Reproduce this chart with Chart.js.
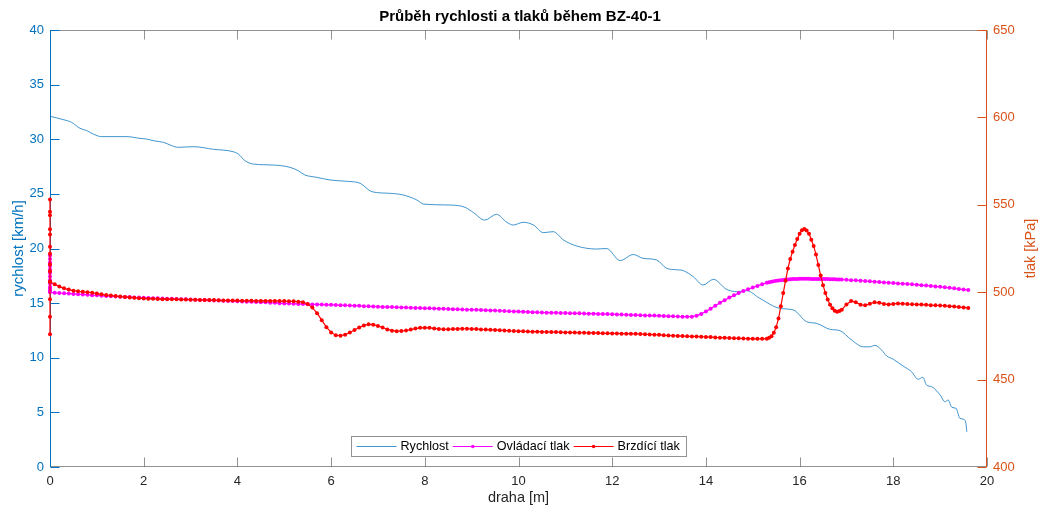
<!DOCTYPE html>
<html>
<head>
<meta charset="utf-8">
<title>Průběh rychlosti a tlaků během BZ-40-1</title>
<script src="https://cdn.jsdelivr.net/npm/chart.js@4/dist/chart.umd.min.js"></script>
<style>
  html, body { margin: 0; padding: 0; background: #fff; }
  #wrap { width: 1040px; height: 509px; }
</style>
</head>
<body>
<div id="wrap"><canvas id="chart" width="1040" height="509"></canvas></div>
<script>
const chartTitle = 'Průběh rychlosti a tlaků během BZ-40-1';
const seriesNames = ['Rychlost', 'Ovládací tlak', 'Brzdící tlak'];
const axisTitles = ['draha [m]', 'rychlost [km/h]', 'tlak [kPa]'];
const speedTicks = [0, 5, 10, 15, 20, 25, 30, 35, 40];
const pressTicks = [400, 450, 500, 550, 600, 650];
const distTicks = [0, 2, 4, 6, 8, 10, 12, 14, 16, 18, 20];

// rychlost [km/h] vs draha [m]
const speedDist = [
  0, 0.28, 0.46, 0.64, 0.78, 0.92, 1.1, 1.64, 1.92, 2.06, 2.24, 2.42, 2.6, 2.74, 3.06, 3.49, 3.91, 4.02, 4.16, 4.34,
  4.77, 5.12, 5.3, 5.44, 5.69, 5.98, 6.33, 6.62, 6.87, 7.26, 7.54, 7.83, 7.97, 8.54, 8.86, 9.04, 9.28, 9.53, 9.75, 9.89,
  10.1, 10.32, 10.53, 10.74, 10.96, 11.24, 11.67, 11.88, 12.17, 12.45, 12.66, 12.95, 13.16, 13.38, 13.52, 13.73, 13.94, 14.16, 14.44, 14.66,
  14.87, 15.15, 15.58, 15.87, 16.15, 16.36, 16.65, 16.86, 17.1, 17.36, 17.5, 17.61, 17.75, 17.86, 18.0, 18.21, 18.39, 18.53, 18.63, 18.71,
  18.82, 19.0, 19.1, 19.17, 19.25, 19.34, 19.42, 19.5, 19.55, 19.57
];
const speedVals = [
  32.1, 31.8, 31.55, 31.0, 30.8, 30.48, 30.24, 30.24, 30.08, 30.02, 29.84, 29.72, 29.41, 29.26, 29.32, 29.08, 28.86, 28.65, 28.04, 27.73,
  27.64, 27.43, 27.12, 26.73, 26.52, 26.27, 26.15, 25.97, 25.2, 25.05, 24.9, 24.44, 24.07, 23.98, 23.77, 23.28, 22.6, 23.13, 22.4, 22.15,
  22.4, 22.15, 21.45, 21.54, 20.78, 20.23, 19.95, 20.0, 18.9, 19.45, 19.1, 18.95, 18.19, 18.05, 17.97, 17.42, 16.66, 17.18, 16.26, 16.05,
  16.14, 15.44, 14.52, 14.37, 13.3, 13.15, 12.6, 12.48, 11.66, 11.0, 11.0, 11.14, 10.7, 10.16, 9.86, 9.24, 8.72, 8.03, 8.21, 7.5,
  7.35, 6.59, 5.98, 6.13, 5.46, 5.37, 4.46, 4.37, 4.0, 3.23
];

// tlaky [kPa] vs draha [m]
const pressDist = [
  0, 0, 0, 0, 0, 0, 0, 0, 0, 0, 0, 0, 0, 0, 0.1, 0.2, 0.3, 0.4, 0.5, 0.6, 0.7, 0.8, 0.9,
  1, 1.1, 1.2, 1.3, 1.4, 1.5, 1.6, 1.7, 1.8, 1.9,
  2, 2.1, 2.2, 2.3, 2.4, 2.5, 2.6, 2.7, 2.8, 2.9,
  3, 3.1, 3.2, 3.3, 3.4, 3.5, 3.6, 3.7, 3.8, 3.9,
  4, 4.1, 4.2, 4.3, 4.4, 4.5, 4.6, 4.7, 4.8, 4.9,
  5, 5.1, 5.2, 5.3, 5.4, 5.5, 5.6, 5.7, 5.8, 5.9,
  6, 6.1, 6.2, 6.3, 6.4, 6.5, 6.6, 6.7, 6.8, 6.9,
  7, 7.1, 7.2, 7.3, 7.4, 7.5, 7.6, 7.7, 7.8, 7.9,
  8, 8.1, 8.2, 8.3, 8.4, 8.5, 8.6, 8.7, 8.8, 8.9,
  9, 9.1, 9.2, 9.3, 9.4, 9.5, 9.6, 9.7, 9.8, 9.9,
  10, 10.1, 10.2, 10.3, 10.4, 10.5, 10.6, 10.7, 10.8, 10.9,
  11, 11.1, 11.2, 11.3, 11.4, 11.5, 11.6, 11.7, 11.8, 11.9,
  12, 12.1, 12.2, 12.3, 12.4, 12.5, 12.6, 12.7, 12.8, 12.9,
  13, 13.1, 13.2, 13.3, 13.4, 13.5, 13.6, 13.7, 13.8, 13.9,
  14, 14.1, 14.2, 14.3, 14.4, 14.5, 14.6, 14.7, 14.8, 14.9,
  15, 15.1, 15.2, 15.3, 15.35, 15.4, 15.45, 15.5, 15.55, 15.6, 15.65, 15.7, 15.75, 15.8, 15.85, 15.9, 15.95,
  16, 16.05, 16.1, 16.15, 16.2, 16.25, 16.3, 16.35, 16.4, 16.45, 16.5, 16.55, 16.6, 16.65, 16.7, 16.75, 16.8, 16.85, 16.9,
  17, 17.1, 17.2, 17.3, 17.4, 17.5, 17.6, 17.7, 17.8, 17.9,
  18, 18.1, 18.2, 18.3, 18.4, 18.5, 18.6, 18.7, 18.8, 18.9,
  19, 19.1, 19.2, 19.3, 19.4, 19.5, 19.6
];
const controlPress = [
  521, 519, 517, 515, 513, 511, 509, 507, 505, 503, 502, 501, 500.4, 499.9, 499.7, 499.5, 499.4, 499.2, 499.0, 498.8, 498.7, 498.5, 498.3,
  498.2, 498.0, 497.8, 497.7, 497.6, 497.4, 497.3, 497.2, 497.0, 496.9,
  496.8, 496.7, 496.6, 496.5, 496.4, 496.3, 496.2, 496.1, 496.0, 495.9,
  495.8, 495.7, 495.6, 495.5, 495.4, 495.3, 495.2, 495.1, 495.0, 494.9,
  494.8, 494.7, 494.6, 494.5, 494.4, 494.3, 494.2, 494.0, 493.9, 493.7,
  493.6, 493.5, 493.4, 493.3, 493.2, 493.1, 493.0, 493.0, 492.9, 492.8,
  492.8, 492.7, 492.6, 492.5, 492.4, 492.3, 492.2, 492.0, 491.9, 491.8,
  491.7, 491.6, 491.5, 491.5, 491.4, 491.3, 491.2, 491.1, 491.0, 490.9,
  490.8, 490.8, 490.7, 490.6, 490.5, 490.4, 490.3, 490.2, 490.1, 490.0,
  490.0, 489.9, 489.8, 489.7, 489.6, 489.5, 489.4, 489.2, 489.1, 489.0,
  488.9, 488.8, 488.7, 488.6, 488.5, 488.4, 488.3, 488.3, 488.2, 488.1,
  488.1, 488.0, 487.9, 487.9, 487.8, 487.7, 487.7, 487.6, 487.5, 487.5,
  487.4, 487.3, 487.2, 487.1, 487.0, 486.9, 486.8, 486.7, 486.6, 486.6,
  486.5, 486.4, 486.3, 486.2, 486.1, 486.0, 486.0, 486.0, 486.5, 487.6,
  489.0, 490.6, 492.3, 493.9, 495.4, 496.9, 498.2, 499.5, 500.7, 501.7,
  502.7, 503.6, 504.6, 505.4, 505.7, 506.0, 506.3, 506.5, 506.7, 506.9, 507.0, 507.2, 507.3, 507.4, 507.5, 507.6, 507.6,
  507.7, 507.7, 507.7, 507.7, 507.7, 507.6, 507.6, 507.6, 507.6, 507.5, 507.5, 507.5, 507.5, 507.4, 507.4, 507.4, 507.3, 507.3, 507.2,
  507.1, 506.9, 506.8, 506.6, 506.4, 506.2, 506.0, 505.8, 505.6, 505.4,
  505.2, 505.0, 504.9, 504.7, 504.5, 504.3, 504.0, 503.8, 503.6, 503.3,
  503.1, 502.8, 502.5, 502.2, 501.8, 501.5, 501.3
];
const brakePress = [
  476, 486, 496, 506, 516, 526, 536, 546, 553, 544, 533, 522, 512, 506, 504.5, 503.2, 502.2, 501.5, 500.9, 500.5, 500.2, 500.0, 499.7,
  499.2, 498.8, 498.4, 498.1, 497.8, 497.5, 497.3, 497.0, 496.8, 496.6,
  496.4, 496.3, 496.2, 496.1, 496.0, 496.0, 495.9, 495.9, 495.8, 495.8,
  495.7, 495.7, 495.6, 495.6, 495.5, 495.5, 495.4, 495.3, 495.3, 495.2,
  495.2, 495.1, 495.1, 495.1, 495.0, 495.0, 495.0, 495.0, 495.0, 494.9,
  494.9, 494.8, 494.8, 494.6, 494.3, 493.3, 491.2, 488.0, 484.0, 480.0,
  477.0, 475.4, 475.1, 475.7, 476.9, 478.4, 479.8, 481.0, 481.6, 481.4,
  480.7, 479.8, 478.7, 478.0, 477.7, 477.8, 478.1, 478.6, 479.2, 479.6,
  479.7, 479.6, 479.3, 479.0, 478.8, 478.8, 478.9, 479.0, 479.1, 479.1,
  479.0, 478.9, 478.7, 478.6, 478.5, 478.4, 478.3, 478.1, 477.9, 477.8,
  477.7, 477.6, 477.5, 477.4, 477.4, 477.3, 477.3, 477.2, 477.2, 477.1,
  477.0, 477.0, 476.9, 476.8, 476.8, 476.7, 476.7, 476.6, 476.5, 476.5,
  476.4, 476.4, 476.3, 476.3, 476.2, 476.2, 476.1, 476.0, 475.8, 475.7,
  475.6, 475.4, 475.3, 475.1, 475.0, 474.9, 474.8, 474.7, 474.6, 474.5,
  474.4, 474.3, 474.1, 474.0, 473.9, 473.8, 473.7, 473.6, 473.5, 473.4,
  473.3, 473.3, 473.3, 473.4, 473.9, 474.8, 476.8, 480.0, 485.0, 492.0, 499.5, 506.5, 513.5, 519.0, 523.2, 527.0, 530.5,
  533.5, 535.5, 536.2, 535.3, 533.5, 530.0, 526.5, 521.5, 515.5, 509.5, 504.0, 499.5, 495.8, 492.8, 490.8, 489.4, 488.8, 489.2, 490.0,
  493.0, 495.0, 494.3, 492.8, 492.5, 493.4, 494.2, 494.0, 493.3, 492.9,
  493.3, 493.6, 493.4, 493.2, 493.1, 493.0, 492.9, 492.8, 492.6, 492.5,
  492.4, 492.2, 492.0, 491.8, 491.5, 491.3, 491.0
];

const blue = 'rgb(0,114,189)';
const orange = 'rgb(217,83,25)';
const axisGray = 'rgb(38,38,38)';
const fontFamily = '"Liberation Sans", Arial, Helvetica, sans-serif';

const toPoints = (xs, ys) => xs.map((x, i) => ({ x: x, y: ys[i] }));

// MATLAB-like box with inward tick marks
const boxAxes = {
  id: 'boxAxes',
  beforeDatasetsDraw(chart) {
    const { ctx, chartArea: a, scales } = chart;
    const tl = 9;
    const L = Math.round(a.left) + 0.5, R = Math.round(a.right) - 0.5;
    const T = Math.round(a.top) + 0.5, B = Math.round(a.bottom) - 0.5;
    ctx.save();
    ctx.lineWidth = 1;

    ctx.strokeStyle = 'rgba(38,38,38,0.5)';
    ctx.beginPath();
    ctx.moveTo(L, T); ctx.lineTo(R, T);
    ctx.moveTo(L, B); ctx.lineTo(R, B);
    scales.x.ticks.forEach(t => {
      const px = Math.round(scales.x.getPixelForValue(t.value)) + 0.5;
      ctx.moveTo(px, B); ctx.lineTo(px, B - tl);
      ctx.moveTo(px, T); ctx.lineTo(px, T + tl);
    });
    ctx.stroke();

    ctx.strokeStyle = blue;
    ctx.beginPath();
    ctx.moveTo(L, T - 0.5); ctx.lineTo(L, B + 0.5);
    scales.y.ticks.forEach(t => {
      const py = Math.round(scales.y.getPixelForValue(t.value)) + 0.5;
      ctx.moveTo(L, py); ctx.lineTo(L + tl, py);
    });
    ctx.stroke();

    ctx.strokeStyle = orange;
    ctx.beginPath();
    ctx.moveTo(R, T - 0.5); ctx.lineTo(R, B + 0.5);
    scales.y2.ticks.forEach(t => {
      const py = Math.round(scales.y2.getPixelForValue(t.value)) + 0.5;
      ctx.moveTo(R, py); ctx.lineTo(R - tl, py);
    });
    ctx.stroke();
    ctx.restore();
  },
  afterDraw(chart) {
    // right axis label reads bottom to top, like the left one
    const { ctx, chartArea: a } = chart;
    ctx.save();
    ctx.translate(1031, (a.top + a.bottom) / 2);
    ctx.rotate(-Math.PI / 2);
    ctx.font = '14.5px ' + fontFamily;
    ctx.fillStyle = orange;
    ctx.textAlign = 'center';
    ctx.textBaseline = 'middle';
    ctx.fillText(axisTitles[2], 0, 0);
    ctx.restore();
  }
};

// legend box inside the plot, bottom centre
const boxLegend = {
  id: 'boxLegend',
  afterDraw(chart) {
    const { ctx, chartArea: a } = chart;
    const ds = chart.data.datasets;
    const lineLen = 40, gap = 4, padL = 5, padR = 7;
    ctx.save();
    ctx.font = '12.6px ' + fontFamily;
    const widths = ds.map(d => ctx.measureText(d.label).width);
    let total = padL + padR;
    widths.forEach((w, i) => { total += lineLen + gap + w + (i < ds.length - 1 ? gap : 0); });
    total = Math.round(total);
    const h = 20;
    const x0 = Math.round((a.left + a.right) / 2 - total / 2) + 0.5;
    const y0 = Math.round(a.bottom - 31) + 0.5;
    ctx.fillStyle = '#fff';
    ctx.fillRect(x0, y0, total, h);
    ctx.strokeStyle = 'rgba(38,38,38,0.5)';
    ctx.lineWidth = 1;
    ctx.strokeRect(x0, y0, total, h);
    const cy = y0 + h / 2;
    let x = x0 + padL;
    ds.forEach((d, i) => {
      ctx.strokeStyle = d.borderColor;
      ctx.lineWidth = 1;
      ctx.beginPath();
      ctx.moveTo(x, cy); ctx.lineTo(x + lineLen, cy);
      ctx.stroke();
      if (d.pointRadius > 0) {
        ctx.fillStyle = d.borderColor;
        ctx.beginPath();
        ctx.arc(x + lineLen / 2, cy, 1.8, 0, Math.PI * 2);
        ctx.fill();
      }
      x += lineLen + gap;
      ctx.fillStyle = '#000';
      ctx.textBaseline = 'middle';
      ctx.fillText(d.label, x, cy + 0.5);
      x += widths[i] + gap;
    });
    ctx.restore();
  }
};

const ctx = document.getElementById('chart').getContext('2d');
new Chart(ctx, {
  type: 'line',
  data: {
    datasets: [
      {
        label: seriesNames[0],
        data: toPoints(speedDist, speedVals),
        yAxisID: 'y',
        borderColor: 'rgba(0,114,189,0.75)',
        borderWidth: 1,
        pointRadius: 0,
        cubicInterpolationMode: 'monotone',
        order: 2
      },
      {
        label: seriesNames[1],
        data: toPoints(pressDist, controlPress),
        yAxisID: 'y2',
        borderColor: '#ff00ff',
        backgroundColor: '#ff00ff',
        borderWidth: 1.2,
        pointRadius: 2,
        pointBorderWidth: 0,
        pointBackgroundColor: '#ff00ff',
        tension: 0,
        clip: false,
        order: 1
      },
      {
        label: seriesNames[2],
        data: toPoints(pressDist, brakePress),
        yAxisID: 'y2',
        borderColor: '#ff0000',
        backgroundColor: '#ff0000',
        borderWidth: 1.2,
        pointRadius: 2,
        pointBorderWidth: 0,
        pointBackgroundColor: '#ff0000',
        tension: 0,
        clip: false,
        order: 0
      }
    ]
  },
  options: {
    responsive: false,
    animation: false,
    devicePixelRatio: 1,
    layout: { padding: 0 },
    plugins: {
      legend: { display: false },
      tooltip: { enabled: false },
      title: {
        display: true,
        text: chartTitle,
        color: '#000',
        font: { family: fontFamily, size: 15, weight: 'bold' },
        padding: { top: 8, bottom: 4 }
      }
    },
    scales: {
      x: {
        type: 'linear',
        min: 0,
        max: 20,
        afterBuildTicks: s => { s.ticks = distTicks.map(v => ({ value: v })); },
        afterFit: s => { s.height = 42; },
        grid: { display: false, drawTicks: false },
        border: { display: false },
        ticks: { color: axisGray, padding: 7, maxRotation: 0, font: { family: fontFamily, size: 13 } },
        title: { display: true, text: axisTitles[0], color: axisGray, padding: { top: 0, bottom: 2 }, font: { family: fontFamily, size: 14.5 } }
      },
      y: {
        type: 'linear',
        position: 'left',
        min: 0,
        max: 40,
        afterBuildTicks: s => { s.ticks = speedTicks.map(v => ({ value: v })); },
        afterFit: s => { s.width = 50; },
        grid: { display: false, drawTicks: false },
        border: { display: false },
        ticks: { color: blue, padding: 6, font: { family: fontFamily, size: 13 } },
        title: { display: true, text: axisTitles[1], color: blue, padding: { top: 10, bottom: 0 }, font: { family: fontFamily, size: 15 } }
      },
      y2: {
        type: 'linear',
        position: 'right',
        min: 400,
        max: 650,
        afterBuildTicks: s => { s.ticks = pressTicks.map(v => ({ value: v })); },
        afterFit: s => { s.width = 53; },
        grid: { display: false, drawTicks: false },
        border: { display: false },
        ticks: { color: orange, padding: 6, font: { family: fontFamily, size: 13 } },
        title: { display: false }
      }
    }
  },
  plugins: [boxAxes, boxLegend]
});
</script>
</body>
</html>
